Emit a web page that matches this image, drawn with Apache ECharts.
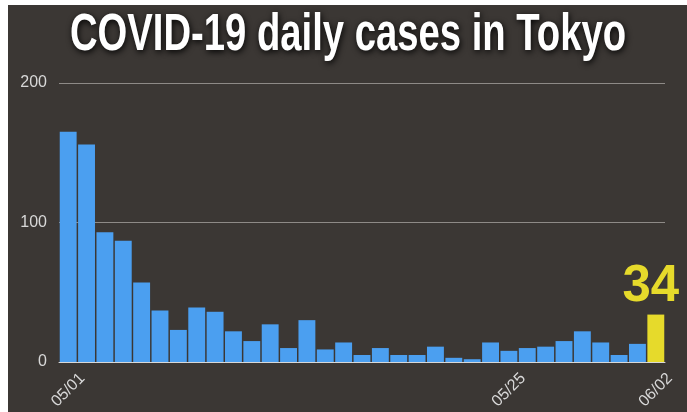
<!DOCTYPE html>
<html>
<head>
<meta charset="utf-8">
<script src="https://cdn.jsdelivr.net/npm/echarts@6/dist/echarts.min.js"></script>
<style>
html,body{margin:0;padding:0;background:#fff;width:687px;height:412px;overflow:hidden;}
#chart{position:absolute;left:8px;top:5px;width:679px;height:407px;}
</style>
</head>
<body>
<div id="chart"></div>
<script>
const titleText = 'COVID-19 daily cases in Tokyo';
const dates = ['05/01','05/02','05/03','05/04','05/05','05/06','05/07','05/08','05/09','05/10',
  '05/11','05/12','05/13','05/14','05/15','05/16','05/17','05/18','05/19','05/20',
  '05/21','05/22','05/23','05/24','05/25','05/26','05/27','05/28','05/29','05/30',
  '05/31','06/01','06/02'];
const cases = [165,156,93,87,57,37,23,39,36,22,15,27,10,30,9,14,5,10,5,5,11,3,2,14,8,10,11,15,22,14,5,13,34];
const shownLabels = ['05/01','05/25','06/02'];
const yTicks = [0,100,200];

const chart = echarts.init(document.getElementById('chart'));
const lastIdx = cases.length - 1;
chart.setOption({
  backgroundColor: '#3b3734',
  animation: false,
  graphic: [{
    type: 'text',
    x: 340,
    y: 31,
    scaleX: 0.75,
    scaleY: 1,
    style: {
      text: titleText,
      fill: '#ffffff',
      fontSize: 51,
      fontWeight: 'bold',
      fontFamily: "'Liberation Sans', Arial, sans-serif",
      align: 'center',
      verticalAlign: 'middle',
      textShadowColor: 'rgba(0,0,0,0.95)',
      textShadowBlur: 6,
      textShadowOffsetX: 1,
      textShadowOffsetY: 2,
      shadowColor: 'rgba(0,0,0,0.95)',
      shadowBlur: 6,
      shadowOffsetX: 1,
      shadowOffsetY: 2
    }
  }],
  grid: { left: 51, right: 22, top: 78, bottom: 50, containLabel: false },
  xAxis: {
    type: 'category',
    data: dates,
    boundaryGap: true,
    axisLine: { lineStyle: { color: '#d8d8d8', width: 1 } },
    axisTick: {
      alignWithLabel: true,
      length: 6,
      lineStyle: { color: '#d8d8d8' },
      interval: (i, v) => shownLabels.includes(v)
    },
    axisLabel: {
      interval: (i, v) => shownLabels.includes(v),
      rotate: 45,
      align: 'center',
      verticalAlign: 'middle',
      margin: 28,
      color: '#d8d8d8',
      fontSize: 16,
      fontFamily: "'Liberation Sans', Arial, sans-serif"
    }
  },
  yAxis: {
    type: 'value',
    min: 0,
    max: 200,
    interval: 100,
    axisLine: { show: false },
    axisTick: { show: false },
    splitLine: { lineStyle: { color: '#8e8a87', width: 1 } },
    axisLabel: {
      color: '#d8d8d8',
      fontSize: 16,
      margin: 12,
      fontFamily: "'Liberation Sans', Arial, sans-serif",
      formatter: v => yTicks.includes(v) ? String(v) : ''
    }
  },
  series: [{
    type: 'bar',
    data: cases.map((v, i) => i === lastIdx ? {
      value: v,
      itemStyle: { color: '#e6da2b' },
      label: {
        show: true,
        position: 'top',
        distance: 2,
        offset: [-5, 0],
        color: '#e6da2b',
        fontSize: 51,
        fontWeight: 'bold',
        fontFamily: "'Liberation Sans', Arial, sans-serif"
      }
    } : v),
    barCategoryGap: '8%',
    itemStyle: { color: '#4b9ff0' }
  }]
});
</script>
</body>
</html>
